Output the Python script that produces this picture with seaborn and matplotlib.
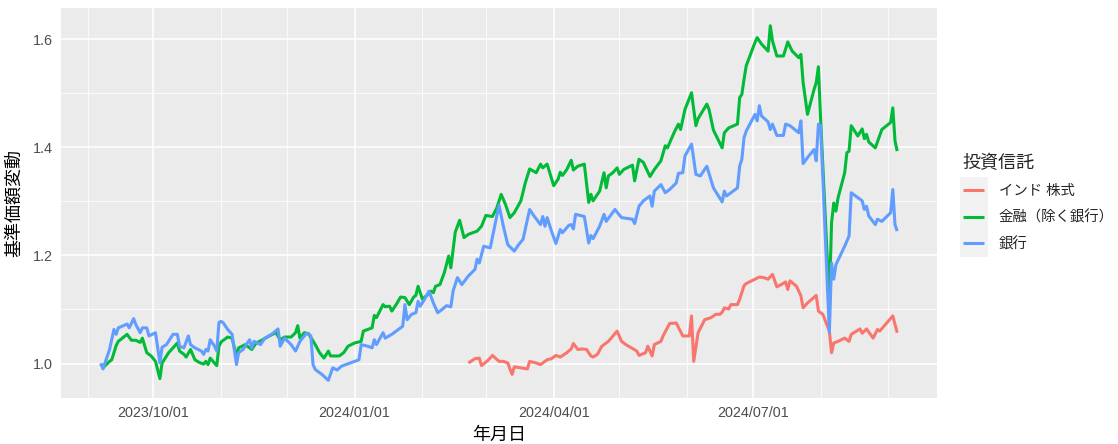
import numpy as np
import pandas as pd
import matplotlib
matplotlib.use("Agg")
import matplotlib.pyplot as plt
import matplotlib.dates as mdates
from matplotlib.patches import Rectangle
import seaborn as sns

# ---------------- data ----------------
series_names = ["インド 株式", "金融（除く銀行）", "銀行"]
series_colors = ["#F8766D", "#00BA38", "#619CFF"]
legend_title = "投資信託"
x_title = "年月日"
y_title = "基準価額変動"

india_dates = [
    "2024-02-22", "2024-02-25", "2024-02-27", "2024-02-28", "2024-03-02", "2024-03-04",
    "2024-03-07", "2024-03-09", "2024-03-11", "2024-03-12", "2024-03-13", "2024-03-14",
    "2024-03-17", "2024-03-20", "2024-03-21", "2024-03-24", "2024-03-26", "2024-03-29",
    "2024-03-31", "2024-04-02", "2024-04-04", "2024-04-07", "2024-04-09", "2024-04-10",
    "2024-04-12", "2024-04-14", "2024-04-16", "2024-04-18", "2024-04-19", "2024-04-21",
    "2024-04-23", "2024-04-26", "2024-04-30", "2024-05-02", "2024-05-04", "2024-05-09",
    "2024-05-10", "2024-05-13", "2024-05-14", "2024-05-16", "2024-05-17", "2024-05-20",
    "2024-05-21", "2024-05-24", "2024-05-27", "2024-05-30", "2024-06-02", "2024-06-03",
    "2024-06-04", "2024-06-06", "2024-06-09", "2024-06-12", "2024-06-14", "2024-06-16",
    "2024-06-17", "2024-06-18", "2024-06-20", "2024-06-21", "2024-06-24", "2024-06-25",
    "2024-06-27", "2024-06-28", "2024-07-04", "2024-07-06", "2024-07-08", "2024-07-10",
    "2024-07-12", "2024-07-14", "2024-07-16", "2024-07-17", "2024-07-18", "2024-07-21",
    "2024-07-23", "2024-07-24", "2024-07-26", "2024-07-30", "2024-07-31", "2024-08-02",
    "2024-08-05", "2024-08-06", "2024-08-07", "2024-08-09", "2024-08-12", "2024-08-14",
    "2024-08-15", "2024-08-19", "2024-08-20", "2024-08-22", "2024-08-25", "2024-08-27",
    "2024-08-28", "2024-09-03", "2024-09-05",
]
india_values = [
    1.001, 1.009, 1.010, 0.996, 1.006, 1.015,
    1.004, 1.004, 1.001, 0.990, 0.980, 0.994,
    0.992, 0.990, 1.004, 1.001, 0.998, 1.007,
    1.009, 1.015, 1.012, 1.020, 1.027, 1.037,
    1.026, 1.027, 1.026, 1.014, 1.012, 1.017,
    1.032, 1.041, 1.060, 1.041, 1.035, 1.023,
    1.015, 1.020, 1.032, 1.014, 1.035, 1.041,
    1.051, 1.074, 1.075, 1.051, 1.051, 1.088,
    1.004, 1.057, 1.081, 1.085, 1.091, 1.091,
    1.095, 1.103, 1.101, 1.109, 1.109, 1.119,
    1.144, 1.148, 1.160, 1.159, 1.156, 1.165,
    1.142, 1.146, 1.151, 1.137, 1.153, 1.143,
    1.125, 1.103, 1.112, 1.126, 1.097, 1.091,
    1.060, 1.020, 1.038, 1.041, 1.047, 1.041,
    1.054, 1.064, 1.056, 1.064, 1.047, 1.063,
    1.060, 1.088, 1.057,
]

finance_dates = [
    "2023-09-07", "2023-09-08", "2023-09-11", "2023-09-12", "2023-09-14", "2023-09-15",
    "2023-09-19", "2023-09-21", "2023-09-23", "2023-09-25", "2023-09-26", "2023-09-28",
    "2023-09-30", "2023-10-02", "2023-10-04", "2023-10-05", "2023-10-08", "2023-10-10",
    "2023-10-12", "2023-10-13", "2023-10-15", "2023-10-16", "2023-10-18", "2023-10-20",
    "2023-10-22", "2023-10-24", "2023-10-25", "2023-10-26", "2023-10-27", "2023-10-30",
    "2023-10-31", "2023-11-01", "2023-11-04", "2023-11-06", "2023-11-08", "2023-11-09",
    "2023-11-12", "2023-11-15", "2023-11-17", "2023-11-20", "2023-11-23", "2023-11-26",
    "2023-11-28", "2023-11-30", "2023-12-03", "2023-12-05", "2023-12-06", "2023-12-07",
    "2023-12-09", "2023-12-11", "2023-12-14", "2023-12-16", "2023-12-18", "2023-12-20",
    "2023-12-21", "2023-12-25", "2023-12-27", "2023-12-29", "2024-01-01", "2024-01-04",
    "2024-01-05", "2024-01-07", "2024-01-09", "2024-01-10", "2024-01-11", "2024-01-14",
    "2024-01-15", "2024-01-17", "2024-01-18", "2024-01-20", "2024-01-22", "2024-01-24",
    "2024-01-26", "2024-01-28", "2024-01-29", "2024-01-30", "2024-02-01", "2024-02-03",
    "2024-02-05", "2024-02-06", "2024-02-07", "2024-02-09", "2024-02-11", "2024-02-13",
    "2024-02-14", "2024-02-16", "2024-02-18", "2024-02-20", "2024-02-22", "2024-02-26",
    "2024-02-28", "2024-03-01", "2024-03-04", "2024-03-06", "2024-03-08", "2024-03-10",
    "2024-03-12", "2024-03-14", "2024-03-17", "2024-03-19", "2024-03-21", "2024-03-24",
    "2024-03-26", "2024-03-27", "2024-03-29", "2024-04-01", "2024-04-03", "2024-04-04",
    "2024-04-05", "2024-04-07", "2024-04-09", "2024-04-10", "2024-04-12", "2024-04-15",
    "2024-04-17", "2024-04-18", "2024-04-19", "2024-04-22", "2024-04-24", "2024-04-25",
    "2024-04-26", "2024-04-28", "2024-04-30", "2024-05-01", "2024-05-03", "2024-05-07",
    "2024-05-08", "2024-05-10", "2024-05-12", "2024-05-15", "2024-05-17", "2024-05-20",
    "2024-05-22", "2024-05-23", "2024-05-26", "2024-05-28", "2024-05-29", "2024-05-31",
    "2024-06-03", "2024-06-05", "2024-06-06", "2024-06-10", "2024-06-11", "2024-06-13",
    "2024-06-17", "2024-06-18", "2024-06-20", "2024-06-24", "2024-06-25", "2024-06-26",
    "2024-06-27", "2024-06-28", "2024-07-02", "2024-07-03", "2024-07-05", "2024-07-08",
    "2024-07-09", "2024-07-10", "2024-07-12", "2024-07-15", "2024-07-17", "2024-07-19",
    "2024-07-22", "2024-07-23", "2024-07-24", "2024-07-26", "2024-07-29", "2024-07-30",
    "2024-07-31", "2024-08-01", "2024-08-05", "2024-08-06", "2024-08-07", "2024-08-08",
    "2024-08-09", "2024-08-12", "2024-08-13", "2024-08-14", "2024-08-15", "2024-08-18",
    "2024-08-20", "2024-08-21", "2024-08-22", "2024-08-23", "2024-08-26", "2024-08-29",
    "2024-09-02", "2024-09-03", "2024-09-04", "2024-09-05",
]
finance_values = [
    1.000, 0.992, 1.004, 1.007, 1.033, 1.041,
    1.054, 1.043, 1.043, 1.039, 1.047, 1.020,
    1.014, 1.004, 0.972, 1.001, 1.020, 1.029,
    1.038, 1.023, 1.017, 1.012, 1.026, 1.007,
    1.002, 0.999, 1.004, 0.998, 1.010, 0.996,
    1.032, 1.040, 1.049, 1.047, 1.014, 1.029,
    1.035, 1.026, 1.038, 1.044, 1.051, 1.057,
    1.044, 1.049, 1.049, 1.057, 1.070, 1.047,
    1.057, 1.055, 1.035, 1.020, 1.010, 1.023,
    1.014, 1.014, 1.020, 1.032, 1.038, 1.041,
    1.060, 1.063, 1.066, 1.089, 1.085, 1.109,
    1.105, 1.106, 1.097, 1.109, 1.123, 1.122,
    1.109, 1.123, 1.126, 1.143, 1.119, 1.126,
    1.134, 1.131, 1.143, 1.146, 1.168, 1.199,
    1.177, 1.243, 1.265, 1.233, 1.239, 1.245,
    1.254, 1.274, 1.272, 1.288, 1.313, 1.294,
    1.270, 1.279, 1.301, 1.334, 1.360, 1.353,
    1.369, 1.362, 1.369, 1.329, 1.341, 1.354,
    1.348, 1.359, 1.376, 1.358, 1.365, 1.369,
    1.298, 1.313, 1.301, 1.319, 1.353, 1.325,
    1.347, 1.353, 1.362, 1.350, 1.359, 1.367,
    1.338, 1.378, 1.372, 1.346, 1.359, 1.375,
    1.403, 1.399, 1.427, 1.443, 1.433, 1.470,
    1.501, 1.440, 1.453, 1.480, 1.470, 1.432,
    1.399, 1.427, 1.436, 1.443, 1.492, 1.498,
    1.526, 1.551, 1.594, 1.603, 1.591, 1.578,
    1.625, 1.597, 1.569, 1.569, 1.595, 1.578,
    1.566, 1.572, 1.520, 1.461, 1.507, 1.520,
    1.549, 1.452, 1.115, 1.260, 1.297, 1.282,
    1.307, 1.353, 1.390, 1.393, 1.440, 1.421,
    1.434, 1.416, 1.424, 1.410, 1.399, 1.433,
    1.446, 1.473, 1.412, 1.393,
]

bank_dates = [
    "2023-09-07", "2023-09-08", "2023-09-11", "2023-09-13", "2023-09-14", "2023-09-15",
    "2023-09-19", "2023-09-20", "2023-09-22", "2023-09-23", "2023-09-25", "2023-09-26",
    "2023-09-28", "2023-09-29", "2023-10-02", "2023-10-04", "2023-10-05", "2023-10-07",
    "2023-10-10", "2023-10-12", "2023-10-13", "2023-10-15", "2023-10-17", "2023-10-18",
    "2023-10-20", "2023-10-23", "2023-10-24", "2023-10-25", "2023-10-26", "2023-10-27",
    "2023-10-29", "2023-10-30", "2023-10-31", "2023-11-01", "2023-11-02", "2023-11-04",
    "2023-11-06", "2023-11-08", "2023-11-09", "2023-11-11", "2023-11-14", "2023-11-15",
    "2023-11-16", "2023-11-19", "2023-11-21", "2023-11-24", "2023-11-25", "2023-11-27",
    "2023-11-28", "2023-11-30", "2023-12-03", "2023-12-05", "2023-12-07", "2023-12-10",
    "2023-12-12", "2023-12-13", "2023-12-14", "2023-12-17", "2023-12-20", "2023-12-22",
    "2023-12-24", "2023-12-26", "2023-12-30", "2024-01-03", "2024-01-04", "2024-01-07",
    "2024-01-09", "2024-01-10", "2024-01-11", "2024-01-14", "2024-01-15", "2024-01-18",
    "2024-01-21", "2024-01-23", "2024-01-24", "2024-01-25", "2024-01-27", "2024-01-29",
    "2024-01-30", "2024-01-31", "2024-02-02", "2024-02-04", "2024-02-06", "2024-02-08",
    "2024-02-10", "2024-02-12", "2024-02-14", "2024-02-15", "2024-02-17", "2024-02-19",
    "2024-02-22", "2024-02-25", "2024-02-26", "2024-02-27", "2024-02-29", "2024-03-03",
    "2024-03-07", "2024-03-09", "2024-03-11", "2024-03-14", "2024-03-16", "2024-03-18",
    "2024-03-21", "2024-03-23", "2024-03-26", "2024-03-27", "2024-03-28", "2024-03-29",
    "2024-03-31", "2024-04-02", "2024-04-04", "2024-04-05", "2024-04-08", "2024-04-09",
    "2024-04-10", "2024-04-11", "2024-04-15", "2024-04-17", "2024-04-18", "2024-04-19",
    "2024-04-22", "2024-04-24", "2024-04-25", "2024-04-29", "2024-05-02", "2024-05-07",
    "2024-05-08", "2024-05-10", "2024-05-12", "2024-05-15", "2024-05-16", "2024-05-17",
    "2024-05-20", "2024-05-22", "2024-05-24", "2024-05-27", "2024-05-28", "2024-05-30",
    "2024-05-31", "2024-06-03", "2024-06-05", "2024-06-07", "2024-06-10", "2024-06-13",
    "2024-06-17", "2024-06-18", "2024-06-19", "2024-06-21", "2024-06-24", "2024-06-25",
    "2024-06-26", "2024-06-27", "2024-06-28", "2024-07-02", "2024-07-03", "2024-07-04",
    "2024-07-05", "2024-07-08", "2024-07-09", "2024-07-10", "2024-07-12", "2024-07-15",
    "2024-07-16", "2024-07-18", "2024-07-22", "2024-07-23", "2024-07-24", "2024-07-26",
    "2024-07-29", "2024-07-30", "2024-07-31", "2024-08-01", "2024-08-05", "2024-08-06",
    "2024-08-07", "2024-08-08", "2024-08-12", "2024-08-14", "2024-08-15", "2024-08-19",
    "2024-08-20", "2024-08-21", "2024-08-22", "2024-08-23", "2024-08-26", "2024-08-27",
    "2024-08-29", "2024-09-02", "2024-09-03", "2024-09-04", "2024-09-05",
]
bank_values = [
    1.000, 0.990, 1.026, 1.063, 1.054, 1.066,
    1.073, 1.066, 1.083, 1.072, 1.057, 1.066,
    1.066, 1.051, 1.057, 1.001, 1.030, 1.035,
    1.054, 1.054, 1.032, 1.029, 1.051, 1.035,
    1.029, 1.023, 1.017, 1.026, 1.023, 1.044,
    1.032, 1.023, 1.076, 1.078, 1.075, 1.063,
    1.054, 0.998, 1.020, 1.026, 1.044, 1.029,
    1.041, 1.035, 1.047, 1.054, 1.057, 1.064,
    1.032, 1.047, 1.035, 1.023, 1.041, 1.056,
    1.051, 0.998, 0.989, 0.980, 0.969, 0.992,
    0.988, 0.995, 1.001, 1.007, 1.035, 1.032,
    1.029, 1.044, 1.035, 1.057, 1.047, 1.054,
    1.063, 1.069, 1.109, 1.081, 1.091, 1.094,
    1.115, 1.106, 1.119, 1.134, 1.112, 1.094,
    1.100, 1.107, 1.105, 1.134, 1.159, 1.146,
    1.162, 1.174, 1.193, 1.186, 1.217, 1.214,
    1.293, 1.254, 1.220, 1.208, 1.220, 1.230,
    1.285, 1.273, 1.257, 1.272, 1.254, 1.270,
    1.245, 1.222, 1.248, 1.242, 1.256, 1.257,
    1.249, 1.276, 1.272, 1.223, 1.237, 1.231,
    1.254, 1.276, 1.263, 1.285, 1.270, 1.267,
    1.259, 1.291, 1.301, 1.310, 1.291, 1.319,
    1.331, 1.316, 1.322, 1.334, 1.352, 1.353,
    1.384, 1.406, 1.350, 1.347, 1.365, 1.325,
    1.299, 1.319, 1.310, 1.316, 1.325, 1.365,
    1.378, 1.418, 1.430, 1.461, 1.449, 1.477,
    1.458, 1.447, 1.433, 1.443, 1.422, 1.422,
    1.443, 1.440, 1.427, 1.449, 1.370, 1.381,
    1.396, 1.375, 1.443, 1.440, 1.057, 1.186,
    1.156, 1.183, 1.217, 1.236, 1.316, 1.304,
    1.301, 1.285, 1.291, 1.273, 1.257, 1.267,
    1.263, 1.279, 1.322, 1.257, 1.245,
]

x_tick_dates = ["2023-10-01", "2024-01-01", "2024-04-01", "2024-07-01"]
x_tick_labels = ["2023/10/01", "2024/01/01", "2024/04/01", "2024/07/01"]
y_ticks = [1.0, 1.2, 1.4, 1.6]
y_tick_labels = ["1.0", "1.2", "1.4", "1.6"]

# ---------------- frame ----------------
frames = []
for name, d, v in [(series_names[0], india_dates, india_values),
                   (series_names[1], finance_dates, finance_values),
                   (series_names[2], bank_dates, bank_values)]:
    frames.append(pd.DataFrame({"date": pd.to_datetime(d), "value": v, "fund": name}))
df = pd.concat(frames, ignore_index=True)

# ---------------- style ----------------
sns.set_theme(style="white")
plt.rcParams["font.family"] = ["Liberation Sans", "Noto Sans CJK JP", "DejaVu Sans"]

W, H, DPI = 1118, 444, 100
LW = 2.2
fig = plt.figure(figsize=(W / DPI, H / DPI), dpi=DPI, facecolor="white")
ax = fig.add_axes([61 / W, 1 - 398 / H, (937 - 61) / W, (398 - 8) / H])
ax.set_facecolor("#EBEBEB")

sns.lineplot(data=df, x="date", y="value", hue="fund", hue_order=series_names,
             palette=series_colors, estimator=None, linewidth=LW, ax=ax,
             legend=True, solid_joinstyle="round", solid_capstyle="butt")

ax.margins(x=0.05, y=0.05)

# axes ticks / grid
ax.set_xticks(pd.to_datetime(x_tick_dates))
ax.set_xticklabels(x_tick_labels)
ax.xaxis.set_minor_locator(mdates.MonthLocator())
ax.set_yticks(y_ticks)
ax.set_yticklabels(y_tick_labels)
ax.yaxis.set_minor_locator(matplotlib.ticker.MultipleLocator(0.1))

ax.grid(True, which="major", color="white", linewidth=1.1)
ax.grid(True, which="minor", color="white", linewidth=0.55)
ax.set_axisbelow(True)
for s in ax.spines.values():
    s.set_visible(False)

ax.tick_params(axis="both", which="major", length=3.2, width=0.8, color="#333333",
               labelcolor="#4D4D4D", labelsize=10.4, pad=2.5)
ax.tick_params(axis="both", which="minor", length=0)

ax.set_xlabel(x_title, fontsize=13, color="black", labelpad=5)
ax.set_ylabel(y_title, fontsize=13, color="black", labelpad=7)

# legend
handles, labels = ax.get_legend_handles_labels()
leg = ax.legend(handles, labels, title=legend_title, loc="center left",
                bbox_to_anchor=(957 / W, 0.5 * (1 - 398 / H) + 0.5 * (1 - 8 / H)),
                bbox_transform=fig.transFigure, frameon=False, fontsize=10.4,
                title_fontsize=13, handlelength=1.5, handletextpad=1.0,
                labelspacing=0.85, borderaxespad=0, alignment="left")
for ln in leg.get_lines():
    ln.set_linewidth(LW)

fig.canvas.draw()
renderer = fig.canvas.get_renderer()
hl = leg.get_lines()
ext = [h.get_window_extent(renderer) for h in hl]
cx = np.mean([(e.x0 + e.x1) / 2 for e in ext])
cys = [(e.y0 + e.y1) / 2 for e in ext]
step = abs(cys[0] - cys[1])
top = max(cys) + step / 2
bot = min(cys) - step / 2
rect = Rectangle(((cx - 14) / W, bot / H), 28 / W, (top - bot) / H,
                 transform=fig.transFigure, facecolor="#F2F2F2", edgecolor="none",
                 zorder=-1)
fig.patches.append(rect)

fig.savefig("out.png", dpi=DPI, facecolor="white")
